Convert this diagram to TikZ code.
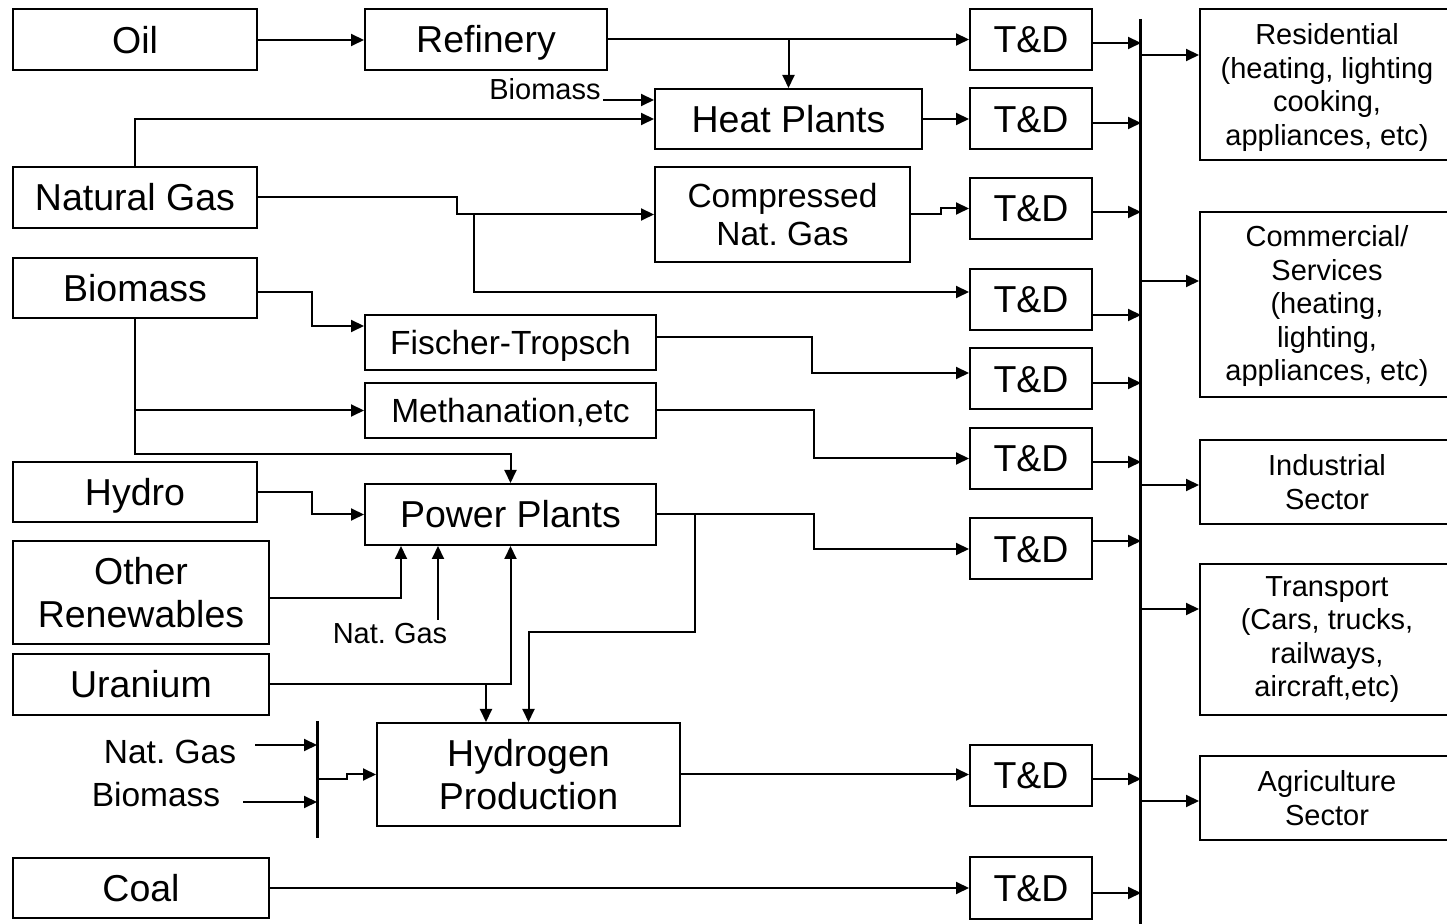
\documentclass[tikz,border=0pt]{standalone}
\usepackage{fontspec}
\setmainfont{Liberation Sans}
\usetikzlibrary{arrows.meta}
\newcommand{\bigf}{\fontsize{18.75}{21.5}\selectfont}
\newcommand{\medf}{\fontsize{16.75}{19}\selectfont}
\newcommand{\smlf}{\fontsize{14.5}{16.75}\selectfont}
\frenchspacing

\begin{document}
\begin{tikzpicture}[x=0.5pt,y=-0.5pt,>={Triangle[length=6.5pt,width=6pt]},
 b/.style={draw,line width=1pt,align=center,inner sep=0pt,font=\bigf},
 bc/.style={b,text height=13.4pt,text depth=0pt},
 bm/.style={b,font=\medf},bmc/.style={bm,text height=12pt,text depth=0pt},
 bs/.style={b,font=\smlf,minimum width=135pt},
 td/.style={bc,minimum width=61pt,minimum height=30.5pt},
 a/.style={->,line width=1pt},l/.style={inner sep=1pt,font=\smlf},
 txt/.style={align=center,inner sep=0pt,font=\smlf},
 bus/.style={line width=1.5pt}]
 \useasboundingbox (0,0) rectangle (1447,924);
 \node[bc,minimum width=122pt,minimum height=30.5pt] (oil) at (135,40) {Oil};
 \node[bc,minimum width=122pt,minimum height=30.5pt] (ng) at (135,197.5) {Natural Gas};
 \node[bc,minimum width=122pt,minimum height=30pt] (bio) at (135,288) {Biomass};
 \node[bc,minimum width=122pt,minimum height=30pt] (hydro) at (135,492) {Hydro};
 \node[b,minimum width=128pt,minimum height=51.5pt] (othr) at (141,592.5) {Other\\Renewables};
 \node[bc,minimum width=128pt,minimum height=30.5pt] (uran) at (141,684.5) {Uranium};
 \node[bc,minimum width=128pt,minimum height=30pt] (coal) at (141,888) {Coal};
 \node[bc,minimum width=121pt,minimum height=30.5pt] (ref) at (486,39.5) {Refinery};
 \node[bc,minimum width=133.5pt,minimum height=30pt] (heat) at (788.5,119) {Heat Plants};
 \node[bm,minimum width=127.5pt,minimum height=47.5pt] (cng) at (782.5,214.5) {Compressed\\Nat. Gas};
 \node[bmc,minimum width=145.5pt,minimum height=27.5pt] (ft) at (510.5,342.5) {Fischer-Tropsch};
 \node[bmc,minimum width=145.5pt,minimum height=27.5pt] (meth) at (510.5,410.5) {Methanation,etc};
 \node[bc,minimum width=145.5pt,minimum height=30.5pt] (pp) at (510.5,514.5) {Power Plants};
 \node[b,minimum width=151.5pt,minimum height=51.5pt] (hyd) at (528.5,774.5) {Hydrogen\\Production};
 \node[td] (td1) at (1031,39.5) {T\&D};
 \node[td] (td2) at (1031,119) {T\&D};
 \node[td] (td3) at (1031,208.5) {T\&D};
 \node[td] (td4) at (1031,299.5) {T\&D};
 \node[td] (td5) at (1031,379) {T\&D};
 \node[td] (td6) at (1031,458.5) {T\&D};
 \node[td] (td7) at (1031,549) {T\&D};
 \node[td] (td8) at (1031,775.5) {T\&D};
 \node[td] (td9) at (1031,888) {T\&D};
 \node[bs,minimum height=75.5pt] (res) at (1335,84.5) {};
 \node[bs,minimum height=92.5pt] (com) at (1335,304.5) {};
 \node[bs,minimum height=42pt] (ind) at (1335,482) {};
 \node[bs,minimum height=75.5pt] (trn) at (1335,639.5) {};
 \node[bs,minimum height=42pt] (agr) at (1335,798) {};
 \node[txt] (restxt) at ([xshift=-4pt,yshift=-1.5pt]res.center) {Residential\\(heating, lighting\\cooking,\\appliances, etc)};
 \node[txt] (comtxt) at ([xshift=-4pt,yshift=-1pt]com.center) {Commercial/\\Services\\(heating,\\lighting,\\appliances, etc)};
 \node[txt] (indtxt) at ([xshift=-4pt]ind.center) {Industrial\\Sector};
 \node[txt] (trntxt) at ([xshift=-4pt]trn.center) {Transport\\(Cars, trucks,\\railways,\\aircraft,etc)};
 \node[txt] (agrtxt) at ([xshift=-4pt]agr.center) {Agriculture\\Sector};
 \node[l,anchor=base east] (bmlab) at (603,100) {Biomass};
 \node[l] (nglab) at (390,634) {Nat. Gas};
 \node[l,font=\medf] (ngh) at (170,752) {Nat. Gas};
 \node[l,font=\medf] (bmh) at (156,795) {Biomass};
 \coordinate (bustop) at (1140,19);
 \coordinate (busbot) at (1140,926);
 \coordinate (bart) at (317,721);
 \coordinate (barb) at (317,838);
 \coordinate (barout) at (317,779);
 \coordinate (nghin) at (255,745);
 \coordinate (bmhin) at (243,802);
 \coordinate (ngsplit) at (474,214.5);
 \coordinate (ngup) at (438,620);
 \coordinate (hin) at ([xshift=-21.25pt]hyd.north);
 \coordinate (ppsplit) at ([xshift=19pt]pp.east);
 \draw[bus] (bustop) -- (busbot);
 \draw[bus] (bart) -- (barb);
 \draw[a] (oil.east) -- (oil.east -| ref.west);
 \draw[a] (ref.east) -- (td1.west);
 \draw[a] (ref.east -| heat.north) -- (heat.north);
 \draw[a] (bmlab.base east) -- (bmlab.base east -| heat.west);
 \draw[a] (ng.north) |- (heat.west);
 \draw[a] (heat.east) -- (heat.east -| td2.west);
 \draw[a] (ng.east) -- ++(199,0) |- (cng.west);
 \draw[a] (ngsplit) |- ([yshift=3.75pt]td4.west);
 \draw[a] (cng.east) -- ++(30,0) |- (td3.west);
 \draw[a] ([yshift=-2pt]bio.east) -- ++(54,0) |- ([yshift=8.25pt]ft.west);
 \draw[a] (bio.south) -- ++(0,135) -| (pp.north);
 \draw[a] (bio.south |- meth.west) -- (meth.west);
 \draw[a] (hydro.east) -- ++(54,0) |- (pp.west);
 \draw[a] ([yshift=-2.75pt]othr.east) -| ([xshift=18.5pt]pp.south west);
 \draw[a] (ngup) -- (ngup |- pp.south);
 \draw[a] (uran.east) -| (pp.south);
 \draw[a] (hin |- uran.east) -- (hin);
 \draw[a] (ppsplit) -- ++(0,118) -| (hyd.north);
 \draw[a] ([yshift=2.75pt]ft.east) -- ++(155,0) |- ([yshift=3pt]td5.west);
 \draw[a] (meth.east) -- ++(157,0) |- (td6.west);
 \draw[a] (pp.east) -- ++(157,0) |- (td7.west);
 \draw[a] (nghin) -- (nghin -| bart);
 \draw[a] (bmhin) -- (bmhin -| bart);
 \draw[a] (barout) -- ++(30,0) |- (hyd.west);
 \draw[a] (hyd.east) -- (hyd.east -| td8.west);
 \draw[a] (coal.east) -- (coal.east -| td9.west);
 \foreach \t/\s in {td1/-1.75,td2/-2,td3/-1.75,td4/-7.75,td5/-2,td6/-1.75,td7/4,td8/-1.75,td9/-2.5}
  \draw[a] ([yshift=\s pt]\t.east) -- ++(48,0);
 \foreach \r/\s in {res/14.75,com/11.75,ind/-1.5,trn/15.25,agr/-1.5}{
  \path ([yshift=\s pt]\r.west) coordinate (\r in);
  \draw[a] (bustop |- \r in) -- (\r in);
 }
\end{tikzpicture}
\end{document}
